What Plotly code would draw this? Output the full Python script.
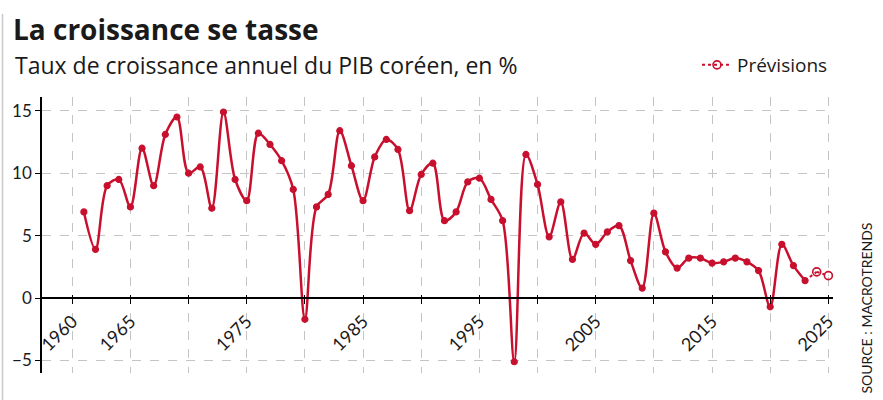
import plotly.graph_objects as go

years = list(range(1961, 2024))
growth = [6.9, 3.9, 9.0, 9.5, 7.3, 12.0, 9.0, 13.1, 14.5, 10.0,
          10.5, 7.2, 14.9, 9.5, 7.8, 13.2, 12.3, 11.0, 8.7, -1.7,
          7.3, 8.3, 13.4, 10.6, 7.8, 11.3, 12.7, 11.9, 7.0, 9.9,
          10.8, 6.2, 6.9, 9.3, 9.6, 7.9, 6.2, -5.1, 11.5, 9.1,
          4.9, 7.7, 3.1, 5.2, 4.3, 5.3, 5.8, 3.0, 0.8, 6.8,
          3.7, 2.4, 3.2, 3.2, 2.8, 2.9, 3.2, 2.9, 2.2, -0.7,
          4.3, 2.6, 1.4]
fc_years = [2023, 2024, 2025]
fc_growth = [1.4, 2.1, 1.8]

tick_years = list(range(1960, 2030, 5))
tick_labels = ["1960", "1965", "", "1975", "", "1985", "", "1995", "",
               "2005", "", "2015", "", "2025"]

RED = "#c8102e"
FONT = "Lato, 'Noto Sans', sans-serif"
WIDE = "'Open Sans', 'Noto Sans', sans-serif"
TXT = "#1a1a1a"
YMIN, YMAX = -6.0, 16.1
zero_pos = (0 - YMIN) / (YMAX - YMIN)

fig = go.Figure()
# dotted link from last observed year to first forecast
fig.add_trace(go.Scatter(
    x=fc_years[:2], y=fc_growth[:2], mode="lines", showlegend=False,
    line=dict(color=RED, width=2, dash="dot"), hoverinfo="skip"))
# forecast points
fig.add_trace(go.Scatter(
    x=fc_years[1:], y=fc_growth[1:], mode="lines+markers", name="Prévisions",
    line=dict(color=RED, width=2, dash="dot"),
    marker=dict(symbol="circle-open", size=8, color=RED, line=dict(width=1.6))))
fig.add_trace(go.Scatter(
    x=years, y=growth, mode="lines+markers", showlegend=False,
    line=dict(color=RED, width=2.5, shape="spline", smoothing=0.9),
    marker=dict(size=6, color=RED, line=dict(color=RED, width=1.2))))
fig.add_trace(go.Scatter(x=[1960], y=[0], xaxis="x2", mode="markers",
                         marker=dict(opacity=0), showlegend=False,
                         hoverinfo="skip"))

fig.update_layout(
    width=883, height=400,
    margin=dict(l=42, r=50, t=97, b=27),
    paper_bgcolor="white", plot_bgcolor="white",
    font=dict(family=FONT, color=TXT, size=17),
    xaxis=dict(range=[1957.4, 2025.4], anchor="free", position=zero_pos,
               tickvals=tick_years, ticktext=tick_labels, tickangle=-45,
               ticks="outside", ticklen=5, tickcolor="black", tickwidth=1.3,
               showline=True, linecolor="black", linewidth=1.5,
               showgrid=True, gridcolor="#c4c4c4", griddash="dash",
               gridwidth=1, zeroline=False,
               tickfont=dict(size=18, color=TXT)),
    xaxis2=dict(range=[1957.4, 2025.4], anchor="free", position=zero_pos,
                overlaying="x", tickvals=tick_years, showticklabels=False,
                ticks="inside", ticklen=3, tickcolor="black", tickwidth=1.3,
                showline=False, showgrid=False, zeroline=False),
    yaxis=dict(range=[YMIN, YMAX], tickvals=[-5, 0, 5, 10, 15],
               ticks="outside", ticklen=5, tickcolor="black", tickwidth=1.3,
               showline=True, linecolor="black", linewidth=1.5,
               showgrid=True, gridcolor="#c4c4c4", griddash="dash",
               gridwidth=1, zeroline=False,
               tickfont=dict(size=17, color=TXT)),
    legend=dict(x=1.0, xanchor="right", y=1.116, yanchor="middle",
                font=dict(size=19, color=TXT, family=WIDE),
                bgcolor="rgba(0,0,0,0)", itemwidth=30),
    showlegend=True,
    title=dict(text="<b>La croissance se tasse</b>", x=13/883, xanchor="left",
               y=1 - 30/400, yanchor="middle",
               font=dict(size=28, color=TXT, family=WIDE)),
)

fig.add_annotation(text="Taux de croissance annuel du PIB coréen, en %",
                   xref="paper", yref="paper", x=(13 - 42) / 791,
                   y=(373 - 65) / 276, xanchor="left", yanchor="middle",
                   showarrow=False, font=dict(size=23, color=TXT, family=WIDE))
fig.add_annotation(text="SOURCE : MACROTRENDS", textangle=-90,
                   xref="paper", yref="paper", x=(866 - 42) / 791,
                   y=(373 - 396) / 276, xanchor="center", yanchor="bottom",
                   showarrow=False, font=dict(size=14, color=TXT))
fig.add_shape(type="line", xref="paper", yref="paper",
              x0=(2.5 - 42) / 791, x1=(2.5 - 42) / 791,
              y0=(373 - 400) / 276, y1=(373 - 14) / 276,
              line=dict(color="#c8c8c8", width=1.5))

fig.write_html("out.html")
